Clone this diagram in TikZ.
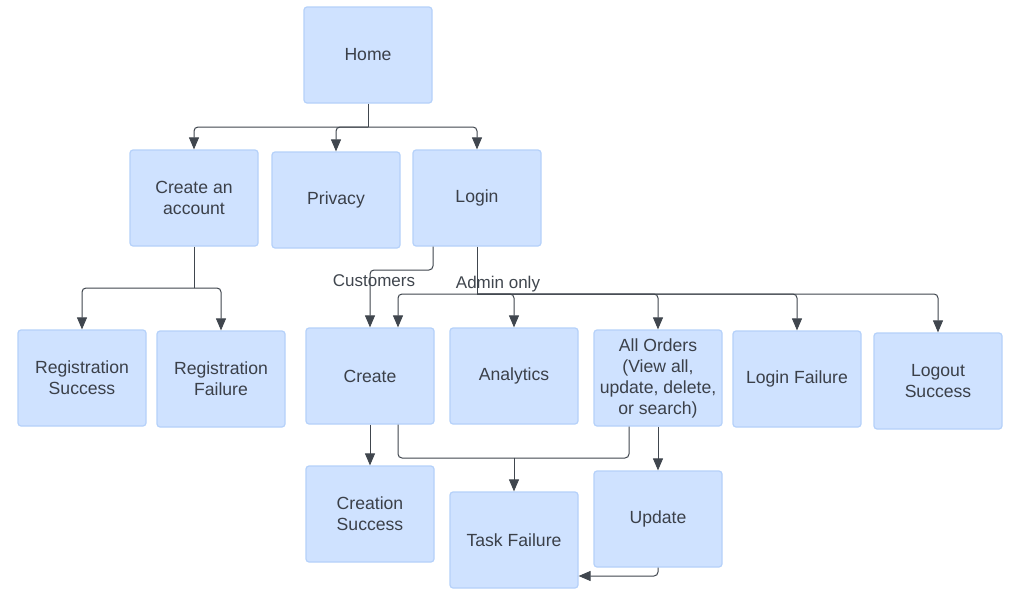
\documentclass[tikz,border=0pt]{standalone}
\usepackage{fontspec}
\setmainfont{Liberation Sans}
\usetikzlibrary{arrows.meta}
\definecolor{boxfill}{HTML}{CFE2FF}
\definecolor{boxline}{HTML}{B5D1FA}
\definecolor{txt}{HTML}{3B4049}
\definecolor{wire}{HTML}{40464E}
\tikzset{
  box/.style={draw=boxline, line width=1.2pt, fill=boxfill, rounded corners=3pt,
    minimum width=128pt, minimum height=96pt, align=center, text=txt,
    font=\fontsize{17.6}{21}\selectfont, inner sep=2pt},
  wireline/.style={draw=wire, line width=1pt, rounded corners=4pt},
  arr/.style={wireline, -{Triangle[length=12pt,width=10pt]}},
  lbl/.style={text=wire, font=\fontsize{17}{20}\selectfont, inner sep=0pt}
}
\begin{document}
\begin{tikzpicture}[x=1pt,y=-1pt]
\useasboundingbox (0,0) rectangle (1013,600);
\fill[white] (0,0) rectangle (1013,600);

\node[box] (home) at (368,55) {Home};
\node[box] (acct) at (194,198) {Create an\\account};
\node[box] (priv) at (336,200) {Privacy};
\node[box] (login) at (477,198) {Login};
\node[box] (rsucc) at (82,378) {Registration\\Success};
\node[box] (rfail) at (221,379) {Registration\\Failure};
\node[box] (create) at (370,376) {Create};
\node[box] (anal) at (514,376) {Analytics};
\node[box] (orders) at (658,378) {All Orders\\(View all,\\update, delete,\\or search)};
\node[box] (lfail) at (797,379) {Login Failure};
\node[box] (logout) at (938,381) {Logout\\Success};
\node[box] (csucc) at (370,514) {Creation\\Success};
\node[box] (task) at (514,540) {Task Failure};
\node[box] (update) at (658,519) {Update};

% Home branches
\coordinate (hj) at (368,127);
\draw[wireline] (home.south) -- (hj);
\draw[arr] (hj) -| (acct.north);
\draw[arr] (hj) -| (priv.north);
\draw[arr] (hj) -| (login.north);

% Account branches
\coordinate (aj) at (194,288);
\draw[wireline] (acct.south) -- (aj);
\draw[arr] (aj) -| (rsucc.north);
\draw[arr] (aj) -| (rfail.north);

% Login: customers
\coordinate (cj) at (400,270);
\draw[arr] ([xshift=-44pt]login.south) |- (cj) -| (create.north);
\node[lbl] (custl) at (374,281) {Customers};

% Login: admin
\coordinate (lj) at (477,294);
\draw[wireline] (login.south) -- (lj);
\draw[arr] (lj) -| ([xshift=28pt]create.north);
\draw[arr] (lj) -| (anal.north);
\draw[arr] (lj) -| (orders.north);
\draw[arr] (lj) -| (lfail.north);
\draw[arr] (lj) -| (logout.north);
\node[lbl] (adminl) at (498,284) {Admin only};

% Create
\draw[arr] (create.south) -- (csucc.north);
\coordinate (tj) at (514,458);
\draw[wireline] ([xshift=28pt]create.south) |- (tj);
\draw[wireline] ([xshift=-29pt]orders.south) |- (tj);
\draw[arr] (tj) -- (task.north);

% Orders -> Update
\draw[arr] (orders.south) -- (update.north);
\draw[arr] (update.south) |- ([yshift=-36pt]task.east);
\end{tikzpicture}
\end{document}
